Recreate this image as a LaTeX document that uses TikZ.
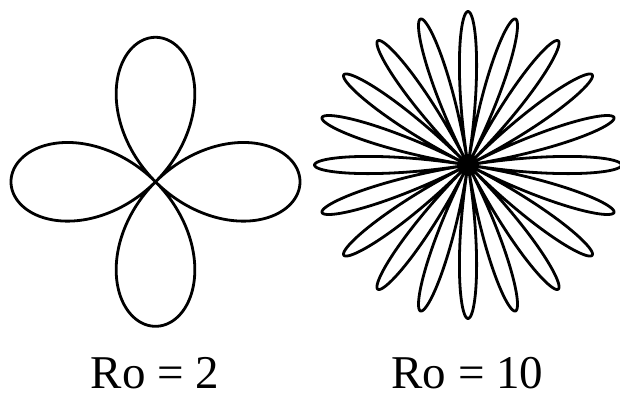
\documentclass[tikz,border=0pt]{standalone}
\usepackage{fontspec}
\setmainfont{Liberation Serif}
\usepackage{tikz}

\begin{document}
\begin{tikzpicture}[
  x=1pt, y=-1pt,
  rose/.style={line width=2.8pt,line join=round},
  lbl/.style={font=\fontsize{47}{50}\selectfont,anchor=base,inner sep=0pt}
]
  \useasboundingbox (0,0) rectangle (620,394);

  % Centres of the two roses
  \coordinate (c2)  at (155.5,181.8);
  \coordinate (c10) at (468.0,165.0);

  % Ro = 2 : four petals
  \draw[rose,shift={(c2)}] plot[domain=0:360,samples=721]
    ({144.5*cos(2*\x)*cos(\x)},{144.5*cos(2*\x)*sin(\x)}) -- cycle;

  % Ro = 10 : twenty petals
  \draw[rose,shift={(c10)}] plot[domain=0:360,samples=2001]
    ({153.5*cos(10*\x)*cos(\x)},{153.5*cos(10*\x)*sin(\x)}) -- cycle;

  % Labels
  \node[lbl] (ro2)  at (155,388)   {Ro = 2};
  \node[lbl] (ro10) at (467.5,388) {Ro = 10};
\end{tikzpicture}
\end{document}
